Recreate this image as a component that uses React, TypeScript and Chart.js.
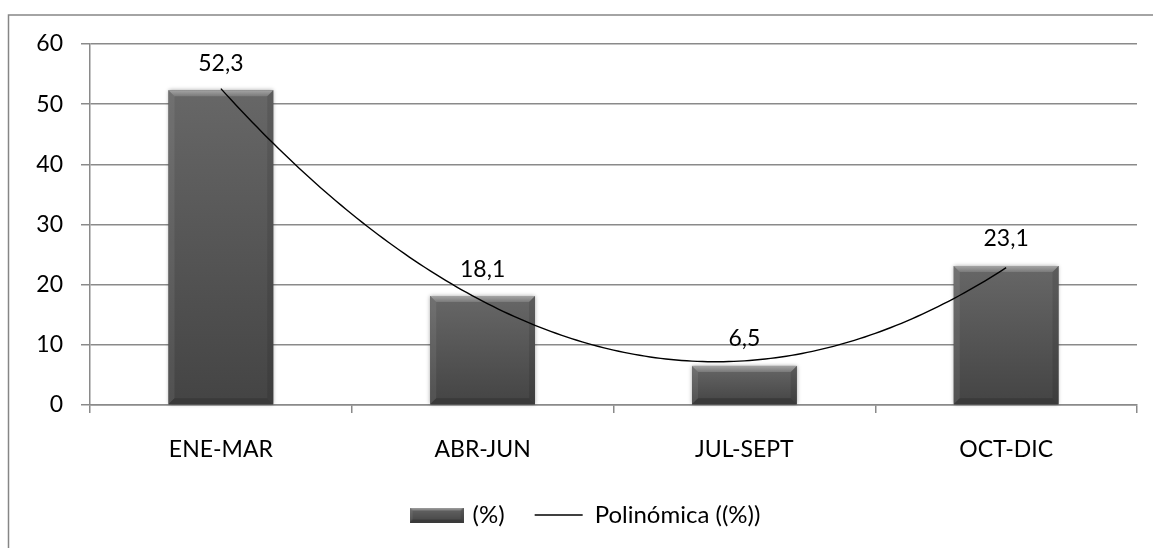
import React, { useEffect, useRef } from 'react';
import { Chart, registerables } from 'chart.js';

Chart.register(...registerables);

const categories = ['ENE-MAR', 'ABR-JUN', 'JUL-SEPT', 'OCT-DIC'];
const percentValues = [52.3, 18.1, 6.5, 23.1];
const valueLabels = ['52,3', '18,1', '6,5', '23,1'];
const yMin = 0;
const yMax = 60;
const yStep = 10;
const seriesName = '(%)';
const trendName = 'Polinómica ((%))';

const FONT_FAMILY = 'Lato';
const FONT_SIZE = 23;
const GRID = '#8a8a8a';
const W = 1153;
const H = 548;

type Pt = [number, number];

function poly(ctx: CanvasRenderingContext2D, pts: Pt[], fill: string | CanvasGradient) {
  ctx.beginPath();
  ctx.moveTo(pts[0][0], pts[0][1]);
  for (let i = 1; i < pts.length; i++) ctx.lineTo(pts[i][0], pts[i][1]);
  ctx.closePath();
  ctx.fillStyle = fill;
  ctx.fill();
}

function paintBevelBar(
  ctx: CanvasRenderingContext2D,
  l: number,
  t: number,
  r: number,
  btm: number,
  bev: number,
  shadow: boolean
) {
  const w = r - l;
  const h = btm - t;
  if (w <= 0 || h <= 0) return;
  const b = Math.min(bev, w / 2, h / 2);
  ctx.save();
  if (shadow) {
    ctx.shadowColor = 'rgba(0,0,0,0.35)';
    ctx.shadowBlur = 4;
  }
  const body = ctx.createLinearGradient(0, t, 0, btm);
  body.addColorStop(0, '#676767');
  body.addColorStop(1, '#444444');
  ctx.fillStyle = body;
  ctx.fillRect(l, t, w, h);
  ctx.restore();
  ctx.save();
  const topG = ctx.createLinearGradient(0, t, 0, t + b);
  topG.addColorStop(0, '#a4a4a4');
  topG.addColorStop(1, '#7a7a7a');
  poly(ctx, [[l, t], [r, t], [r - b, t + b], [l + b, t + b]], topG);
  poly(ctx, [[l, t], [l + b, t + b], [l + b, btm - b], [l, btm]], 'rgba(255,255,255,0.07)');
  poly(ctx, [[r, t], [r, btm], [r - b, btm - b], [r - b, t + b]], 'rgba(0,0,0,0.10)');
  poly(ctx, [[l, btm], [l + b, btm - b], [r - b, btm - b], [r, btm]], '#3a3a3a');
  ctx.restore();
}

function makeLegendIcon(): HTMLCanvasElement {
  const c = document.createElement('canvas');
  c.width = 54;
  c.height = 15;
  const cx = c.getContext('2d');
  if (cx) paintBevelBar(cx, 0, 0, 54, 15, 3, false);
  return c;
}

function quadFit(ys: number[]) {
  let s0 = 0, s1 = 0, s2 = 0, s3 = 0, s4 = 0, t0 = 0, t1 = 0, t2 = 0;
  ys.forEach((y, i) => {
    const x = i;
    s0 += 1; s1 += x; s2 += x * x; s3 += x * x * x; s4 += x * x * x * x;
    t0 += y; t1 += x * y; t2 += x * x * y;
  });
  const det3 = (m: number[][]) =>
    m[0][0] * (m[1][1] * m[2][2] - m[1][2] * m[2][1]) -
    m[0][1] * (m[1][0] * m[2][2] - m[1][2] * m[2][0]) +
    m[0][2] * (m[1][0] * m[2][1] - m[1][1] * m[2][0]);
  const M = [[s0, s1, s2], [s1, s2, s3], [s2, s3, s4]];
  const T = [t0, t1, t2];
  const D = det3(M);
  const coef = [0, 1, 2].map((k) => {
    const Mk = M.map((row, i) => row.map((v, j) => (j === k ? T[i] : v)));
    return det3(Mk) / D;
  });
  return (x: number) => coef[0] + coef[1] * x + coef[2] * x * x;
}

const framePlugin = {
  id: 'frame',
  beforeDraw(chart: any) {
    const ctx = chart.ctx as CanvasRenderingContext2D;
    ctx.save();
    ctx.strokeStyle = '#868686';
    ctx.lineWidth = 1.5;
    ctx.strokeRect(8.5, 15, 3000, 3000);
    ctx.restore();
  },
};

const legendShiftPlugin = {
  id: 'legendShift',
  afterLayout(chart: any) {
    const lg = chart.legend;
    if (lg) {
      lg.left = 36;
    }
  },
};

const barArtPlugin = {
  id: 'barArt',
  afterDatasetsDraw(chart: any) {
    const ctx = chart.ctx as CanvasRenderingContext2D;
    const meta = chart.getDatasetMeta(0);
    const xs = chart.scales.x;
    const ys = chart.scales.y;
    meta.data.forEach((bar: any) => {
      const { x, y, base, width } = bar.getProps(['x', 'y', 'base', 'width'], true);
      paintBevelBar(ctx, x - width / 2, y, x + width / 2, base, 6, true);
    });
    // polynomial trendline (order 2) fitted to the series
    const values = chart.data.datasets[0].data as number[];
    const f = quadFit(values);
    ctx.save();
    ctx.beginPath();
    const steps = 150;
    for (let i = 0; i <= steps; i++) {
      const t = ((values.length - 1) * i) / steps;
      const px = xs.getPixelForValue(t);
      const py = ys.getPixelForValue(f(t));
      if (i === 0) ctx.moveTo(px, py);
      else ctx.lineTo(px, py);
    }
    ctx.strokeStyle = '#000000';
    ctx.lineWidth = 1.4;
    ctx.stroke();
    ctx.restore();
    ctx.save();
    ctx.font = `${FONT_SIZE}px ${FONT_FAMILY}`;
    ctx.fillStyle = '#000000';
    ctx.textAlign = 'center';
    ctx.textBaseline = 'middle';
    meta.data.forEach((bar: any, i: number) => {
      const { x, y } = bar.getProps(['x', 'y'], true);
      ctx.fillText(valueLabels[i], x, y - 27);
    });
    ctx.restore();
  },
};

export default function App() {
  const ref = useRef<HTMLCanvasElement | null>(null);

  useEffect(() => {
    document.body.style.margin = '0';
    document.body.style.overflow = 'hidden';
    const canvas = ref.current;
    if (!canvas) return;
    const icon = makeLegendIcon();
    const font = { family: FONT_FAMILY, size: FONT_SIZE };
    const chart = new Chart(canvas, {
      type: 'bar',
      data: {
        labels: categories,
        datasets: [
          {
            label: seriesName,
            data: percentValues,
            backgroundColor: '#555555',
            borderWidth: 0,
            barPercentage: 0.4,
            categoryPercentage: 1.0,
          },
        ],
      },
      options: {
        animation: false,
        responsive: false,
        devicePixelRatio: 1,
        layout: { padding: { top: 44, right: 16, left: 0, bottom: 11 } },
        scales: {
          x: {
            grid: {
              display: true,
              drawOnChartArea: false,
              drawTicks: true,
              tickLength: 8,
              color: GRID,
              lineWidth: 1.5,
              offset: true,
            },
            border: { display: true, color: GRID, width: 1.5 },
            ticks: { font, color: '#000000', padding: 23, maxRotation: 0, autoSkip: false },
            afterFit: (s: any) => {
              s.height = 68;
            },
          },
          y: {
            min: yMin,
            max: yMax,
            ticks: { stepSize: yStep, font, color: '#000000', padding: 18 },
            grid: { color: GRID, lineWidth: 1.5, tickLength: 9 },
            border: { display: true, color: GRID, width: 1.5 },
            afterFit: (s: any) => {
              s.width = 90;
            },
          },
        },
        plugins: {
          tooltip: { enabled: false },
          legend: {
            position: 'bottom',
            labels: {
              font: { family: FONT_FAMILY, size: 24 },
              color: '#000000',
              usePointStyle: true,
              pointStyleWidth: 48,
              padding: 30,
              generateLabels: () => [
                {
                  text: seriesName,
                  pointStyle: icon as any,
                  fillStyle: '#555555',
                  strokeStyle: '#555555',
                  lineWidth: 0,
                  hidden: false,
                  datasetIndex: 0,
                  fontColor: '#000000',
                },
                {
                  text: trendName,
                  pointStyle: 'line',
                  fillStyle: '#000000',
                  strokeStyle: '#000000',
                  lineWidth: 1.4,
                  hidden: false,
                  datasetIndex: 0,
                  fontColor: '#000000',
                },
              ],
            },
            onClick: () => {},
          },
        },
      },
      plugins: [framePlugin, legendShiftPlugin, barArtPlugin],
    } as any);
    return () => {
      chart.destroy();
    };
  }, []);

  return (
    <canvas
      ref={ref}
      width={W}
      height={H}
      style={{ display: 'block', width: W + 'px', height: H + 'px' }}
    />
  );
}
